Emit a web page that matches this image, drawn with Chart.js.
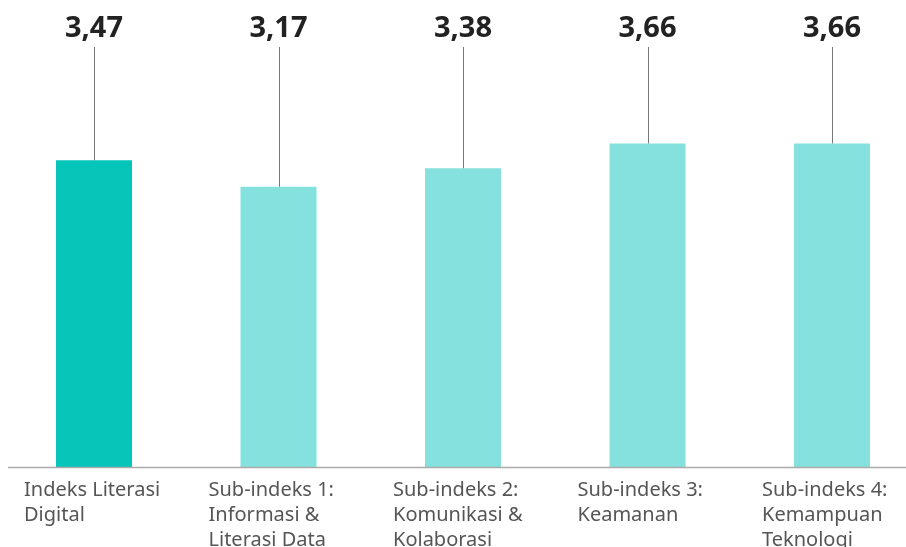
<!DOCTYPE html>
<html>
<head>
<meta charset="utf-8">
<script src="https://cdn.jsdelivr.net/npm/chart.js@4"></script>
<style>
  html, body { margin: 0; padding: 0; background: #fff; }
  #wrap { width: 906px; height: 547px; }
</style>
</head>
<body>
<div id="wrap"><canvas id="chart-indeks"></canvas></div>
<script>
const kategori = [
  ["Indeks Literasi", "Digital"],
  ["Sub-indeks 1:", "Informasi &", "Literasi Data"],
  ["Sub-indeks 2:", "Komunikasi &", "Kolaborasi"],
  ["Sub-indeks 3:", "Keamanan"],
  ["Sub-indeks 4:", "Kemampuan", "Teknologi"],
];
const nilai = [3.47, 3.17, 3.38, 3.66, 3.66];
const warna = ["#06c5b9", "#84e1dd", "#84e1dd", "#84e1dd", "#84e1dd"];

// label nilai + garis penunjuk + label kategori
const labelPlugin = {
  id: "labelPlugin",
  afterDatasetsDraw(chart) {
    const ctx = chart.ctx;
    const meta = chart.getDatasetMeta(0);
    const xScale = chart.scales.x;
    const bawah = chart.chartArea.bottom;
    ctx.save();

    // garis sumbu
    ctx.strokeStyle = "#aaaaaa";
    ctx.lineWidth = 1.5;
    ctx.beginPath();
    ctx.moveTo(8, bawah + 0.5);
    ctx.lineTo(chart.width, bawah + 0.5);
    ctx.stroke();

    meta.data.forEach((bar, i) => {
      // garis penunjuk
      ctx.strokeStyle = "#777777";
      ctx.lineWidth = 1;
      ctx.beginPath();
      ctx.moveTo(Math.round(bar.x) + 0.5, 47);
      ctx.lineTo(Math.round(bar.x) + 0.5, bar.y);
      ctx.stroke();

      // nilai
      ctx.fillStyle = "#222222";
      ctx.font = "bold 29px 'Noto Sans'";
      ctx.textAlign = "center";
      ctx.textBaseline = "middle";
      ctx.fillText(nilai[i].toFixed(2).replace(".", ","), bar.x, 29);

      // kategori
      const x = xScale.getPixelForValue(i) - 70;
      ctx.fillStyle = "#555555";
      ctx.font = "20px 'Noto Sans'";
      ctx.textAlign = "left";
      kategori[i].forEach((baris, j) => {
        ctx.fillText(baris, x, bawah + 23 + j * 25);
      });
    });
    ctx.restore();
  },
};

const ctx = document.getElementById("chart-indeks");
const chart = new Chart(ctx, {
  type: "bar",
  data: {
    labels: kategori.map((k) => k.join(" ")),
    datasets: [
      {
        data: nilai,
        backgroundColor: warna,
        barPercentage: 1,
        categoryPercentage: 0.412,
        clip: false,
      },
    ],
  },
  options: {
    responsive: true,
    maintainAspectRatio: false,
    animation: false,
    layout: {
      padding: { left: 94, right: 74, top: 25, bottom: 80 },
    },
    plugins: {
      legend: { display: false },
      tooltip: { enabled: false },
    },
    scales: {
      x: { display: false, offset: false },
      y: { display: false, min: 0, max: 5 },
    },
  },
  plugins: [labelPlugin],
});
</script>
</body>
</html>
